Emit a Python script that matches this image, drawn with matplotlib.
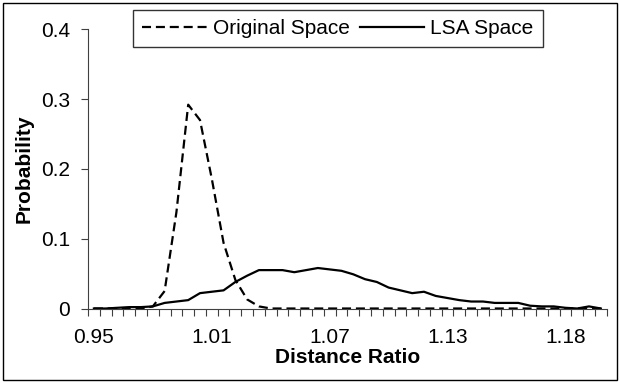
import matplotlib
matplotlib.use('Agg')
import matplotlib.pyplot as plt
import numpy as np
from matplotlib.patches import Rectangle

plt.rcParams['font.family'] = ['Liberation Sans', 'DejaVu Sans']
plt.rcParams['lines.scale_dashes'] = False

# probability per distance-ratio bin (44 bins, 0.95 ... ~1.20)
original_space = [0, 0, 0, 0, 0, 0.003, 0.025, 0.138, 0.292, 0.27,
                  0.186, 0.094, 0.041, 0.013, 0.003, 0, 0, 0, 0, 0,
                  0, 0, 0, 0, 0, 0, 0, 0, 0, 0,
                  0, 0, 0, 0, 0, 0, 0, 0, 0, 0,
                  0, 0, 0, 0]
lsa_space = [0, 0, 0.001, 0.002, 0.002, 0.003, 0.008, 0.010, 0.012, 0.022,
             0.024, 0.026, 0.038, 0.047, 0.055, 0.055, 0.055, 0.052, 0.055, 0.058,
             0.056, 0.054, 0.049, 0.042, 0.038, 0.030, 0.026, 0.022, 0.024, 0.018,
             0.015, 0.012, 0.010, 0.010, 0.008, 0.008, 0.008, 0.004, 0.003, 0.003,
             0.001, 0.0, 0.003, 0.0]
tick_pos = [0, 10, 20, 30, 40]
tick_labels = ['0.95', '1.01', '1.07', '1.13', '1.18']
y_ticks = [0, 0.1, 0.2, 0.3, 0.4]
y_labels = ['0', '0.1', '0.2', '0.3', '0.4']

W, H = 620, 383
fs = 15
fig = plt.figure(figsize=(W / 100, H / 100), dpi=100)
ax = fig.add_axes([88 / W, 1 - 308.5 / H, (606.7 - 88) / W, (308.5 - 29.3) / H])

x = np.arange(len(lsa_space))
ax.plot(x, original_space, color='black', lw=1.6, dashes=(6.5, 3.5),
        label='Original Space')
ax.plot(x, lsa_space, color='black', lw=1.6, label='LSA Space')

ax.set_xlim(-0.5, len(x) - 0.5)
ax.set_ylim(0, 0.4)
ax.set_xticks(np.arange(-0.5, len(x), 1))
ax.set_xticklabels([])
ax.set_xticks(tick_pos, tick_labels, minor=True)
ax.tick_params(axis='x', which='major', length=5, width=0.8, direction='out')
ax.tick_params(axis='x', which='minor', length=0, pad=14, labelsize=fs)
ax.set_yticks(y_ticks, y_labels)
ax.tick_params(axis='y', length=5, width=0.8, pad=8, labelsize=fs)

for s in ['top', 'right']:
    ax.spines[s].set_visible(False)
for s in ['left', 'bottom']:
    ax.spines[s].set_linewidth(0.8)
    ax.spines[s].set_color('#404040')
ax.tick_params(colors='#404040', labelcolor='black')

ax.set_xlabel('Distance Ratio', fontsize=fs, fontweight='bold', labelpad=1)
ax.set_ylabel('Probability', fontsize=fs, fontweight='bold', labelpad=5)

leg = ax.legend(loc='center', bbox_to_anchor=(338 / W, 1 - 28.5 / H),
                bbox_transform=fig.transFigure, ncol=2, fontsize=fs,
                frameon=True, fancybox=False, handlelength=3.1,
                handletextpad=0.3, columnspacing=0.45, borderpad=0.45)
leg.get_frame().set_edgecolor('black')
leg.get_frame().set_linewidth(1)

fig.patches.append(Rectangle((3 / W, 3 / H), 1 - 6 / W, 1 - 6 / H,
                             transform=fig.transFigure, fill=False,
                             edgecolor='black', lw=1))

fig.savefig('out.png', dpi=100)
